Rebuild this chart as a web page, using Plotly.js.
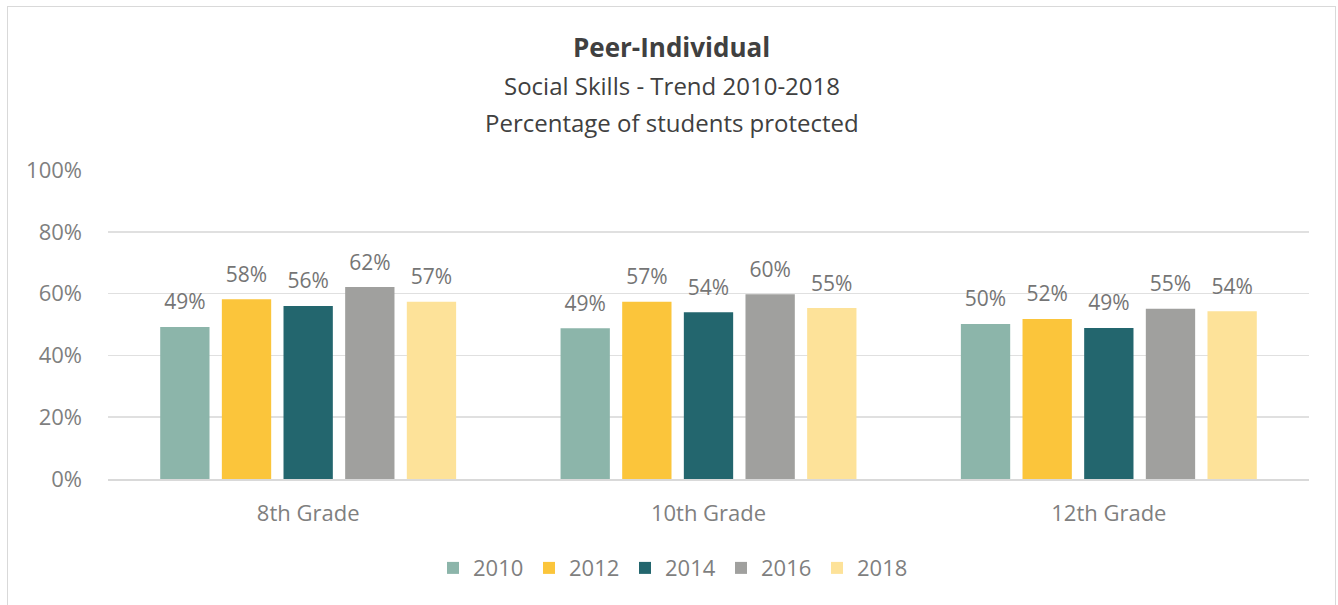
<!DOCTYPE html>
<html>
<head>
<meta charset="utf-8">
<script src="https://cdn.plot.ly/plotly-3.0.1.min.js"></script>
<style>
  html, body { margin: 0; padding: 0; background: #ffffff; }
  #wrap { position: relative; width: 1338px; height: 605px; overflow: hidden; }
  #chart { position: absolute; left: 0; top: 0; width: 1338px; height: 605px; }
  #frame { position: absolute; left: 7px; top: 6px; width: 1329px; height: 620px;
           border: 1px solid #d9d9d9; box-sizing: border-box; pointer-events: none; }
</style>
</head>
<body>
<div id="wrap">
  <div id="chart"></div>
  <div id="frame"></div>
</div>
<script>
const categories = ['8th Grade', '10th Grade', '12th Grade'];
const years = ['2010', '2012', '2014', '2016', '2018'];
const values2010 = [0.492, 0.488, 0.502];
const values2012 = [0.582, 0.574, 0.518];
const values2014 = [0.560, 0.540, 0.489];
const values2016 = [0.621, 0.598, 0.551];
const values2018 = [0.574, 0.553, 0.543];
const seriesValues = [values2010, values2012, values2014, values2016, values2018];
const colors = ['#8cb5aa', '#fbc53b', '#23666e', '#a0a09e', '#fde299'];
const titleLines = ['<b>Peer-Individual</b>', 'Social Skills - Trend 2010-2018', 'Percentage of students protected'];

const FONT = 'Open Sans, Noto Sans, sans-serif';
const barTraces = years.map((yr, i) => ({
  type: 'bar',
  name: yr,
  x: categories,
  y: seriesValues[i],
  marker: { color: colors[i] },
  hoverinfo: 'x+y+name'
}));
// data labels: grouped text traces aligned with the bars
const labelTraces = years.map((yr, i) => ({
  type: 'scatter',
  mode: 'markers+text',
  name: yr,
  showlegend: false,
  x: categories,
  y: seriesValues[i],
  marker: { size: 18, opacity: 0, color: colors[i] },
  texttemplate: '%{y:.0%}',
  textposition: 'top center',
  textfont: { family: FONT, size: 21, color: '#757575' },
  cliponaxis: false,
  hoverinfo: 'skip'
}));

const layout = {
  width: 1338,
  height: 605,
  margin: { l: 108, r: 29, t: 170, b: 126 },
  paper_bgcolor: '#ffffff',
  plot_bgcolor: '#ffffff',
  font: { family: FONT, size: 22, color: '#7f7f7f' },
  barmode: 'group',
  bargap: 0.23,
  bargroupgap: 0.2,
  scattermode: 'group',
  scattergap: 0.23,
  showlegend: true,
  legend: {
    orientation: 'h',
    x: 0.503, xref: 'container', xanchor: 'center',
    y: 0.061, yref: 'container', yanchor: 'middle',
    font: { family: FONT, size: 22, color: '#7f7f7f' },
    entrywidth: 51,
    entrywidthmode: 'pixels',
    traceorder: 'normal'
  },
  xaxis: {
    type: 'category',
    showgrid: false,
    showline: true,
    linecolor: '#d9d9d9',
    linewidth: 1.5,
    ticks: '',
    ticklabelstandoff: 14,
    tickfont: { family: FONT, size: 22, color: '#7f7f7f' }
  },
  yaxis: {
    range: [0, 1],
    dtick: 0.2,
    tickformat: '.0%',
    showgrid: true,
    gridcolor: '#e0e0e0',
    gridwidth: 1.5,
    zeroline: false,
    showline: false,
    ticks: '',
    ticklabelstandoff: 25,
    tickfont: { family: FONT, size: 22, color: '#7f7f7f' }
  },
  annotations: titleLines.map((t, i) => ({
    text: t,
    xref: 'paper', x: 0.4696, xanchor: 'center',
    yref: 'paper', y: [1.398, 1.275, 1.155][i], yanchor: 'middle',
    showarrow: false,
    font: { family: FONT, size: i === 0 ? 26 : 24, color: '#404040' }
  }))
};

Plotly.newPlot('chart', barTraces.concat(labelTraces), layout, { displayModeBar: false, staticPlot: true });
</script>
</body>
</html>
